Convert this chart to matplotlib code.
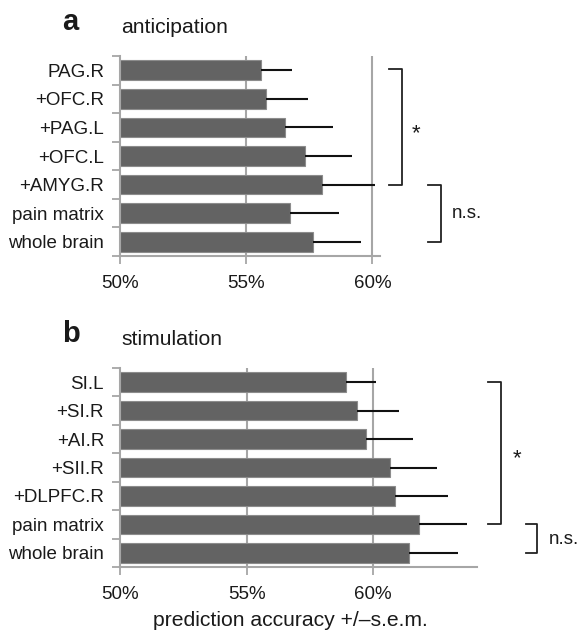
import matplotlib
matplotlib.use("Agg")
import matplotlib.pyplot as plt
import numpy as np

plt.rcParams['font.family'] = ['Liberation Sans', 'DejaVu Sans']

# panel a: anticipation
labels_a = ["PAG.R", "+OFC.R", "+PAG.L", "+OFC.L", "+AMYG.R", "pain matrix", "whole brain"]
acc_a = [55.57, 55.78, 56.55, 57.32, 58.02, 56.75, 57.64]
sem_a = [1.24, 1.66, 1.88, 1.89, 2.10, 1.91, 1.92]

# panel b: stimulation
labels_b = ["SI.L", "+SI.R", "+AI.R", "+SII.R", "+DLPFC.R", "pain matrix", "whole brain"]
acc_b = [58.91, 59.36, 59.72, 60.66, 60.86, 61.79, 61.43]
sem_b = [1.22, 1.64, 1.87, 1.87, 2.10, 1.91, 1.92]

xticks = [50, 55, 60]
xticklabels = ["50%", "55%", "60%"]

GRID = "#a6a6a6"
BAR = "#636363"
TXT = "#1a1a1a"
W, H = 578.0, 632.0

fig = plt.figure(figsize=(5.78, 6.32), dpi=100)


def px(x, y):
    return x / W, 1 - y / H


def panel(rect, labels, acc, sem, xmax):
    ax = fig.add_axes(rect)
    y = np.arange(len(labels))
    ax.barh(y, np.array(acc) - 50, left=50, height=0.69, color=BAR,
            edgecolor="#8c8c8c", linewidth=0.8, zorder=2)
    ax.errorbar(acc, y, xerr=[np.zeros(len(sem)), sem], fmt="none",
                ecolor="#111111", elinewidth=1.5, capsize=0, zorder=3)
    ax.set_xlim(50, xmax)
    ax.set_ylim(len(labels) - 0.5, -0.5)
    ax.set_xticks(xticks)
    ax.set_xticklabels(xticklabels, fontsize=13.5)
    ax.set_yticks(y)
    ax.set_yticklabels(labels, fontsize=13.5)
    ax.set_yticks(np.arange(len(labels) + 1) - 0.5, minor=True)
    ax.tick_params(axis="y", which="major", length=0, pad=11.5, colors=TXT)
    ax.tick_params(axis="y", which="minor", length=6, width=1.3, color=GRID)
    ax.tick_params(axis="x", length=6, width=1.3, color=GRID, pad=8,
                   labelcolor=TXT)
    for x in xticks[1:]:
        ax.axvline(x, color=GRID, lw=1.5, zorder=1)
    for s in ["top", "right"]:
        ax.spines[s].set_visible(False)
    for s in ["left", "bottom"]:
        ax.spines[s].set_color(GRID)
        ax.spines[s].set_linewidth(1.5)
    return ax


def heading(letter, title, ybase):
    fig.text(*px(62, ybase - 1), letter, fontsize=21, fontweight="bold",
             ha="left", va="baseline", color=TXT)
    fig.text(*px(121, ybase + 2), title, fontsize=15.2, ha="left",
             va="baseline", color=TXT)


def bracket(x0, x1, ya, yb, text, tx, ty, size):
    xs = [x0 / W, x1 / W, x1 / W, x0 / W]
    ys = [1 - ya / H, 1 - ya / H, 1 - yb / H, 1 - yb / H]
    fig.add_artist(plt.Line2D(xs, ys, color="#222222", lw=1.3))
    fig.text(*px(tx, ty), text, fontsize=size, ha="left", va="center",
             color=TXT)


panel([0.2076, 0.5949, 0.4498, 0.3165], labels_a, acc_a, sem_a, 60.3)
panel([0.2076, 0.1028, 0.6177, 0.3149], labels_b, acc_b, sem_b, 64.1)

heading("a", "anticipation", 31)
heading("b", "stimulation", 343)

fig.text(*px(290, 626), "prediction accuracy +/\u2013s.e.m.", fontsize=15.2,
         ha="center", va="baseline", color=TXT)

bracket(389, 402, 69, 185, "*", 412, 134, 16)
bracket(428, 441, 185, 242, "n.s.", 452, 213, 13.5)
bracket(488, 501, 382, 524, "*", 513, 459, 16)
bracket(526, 537, 524, 553, "n.s.", 549, 540, 13.5)

fig.savefig("out.png", dpi=100)
